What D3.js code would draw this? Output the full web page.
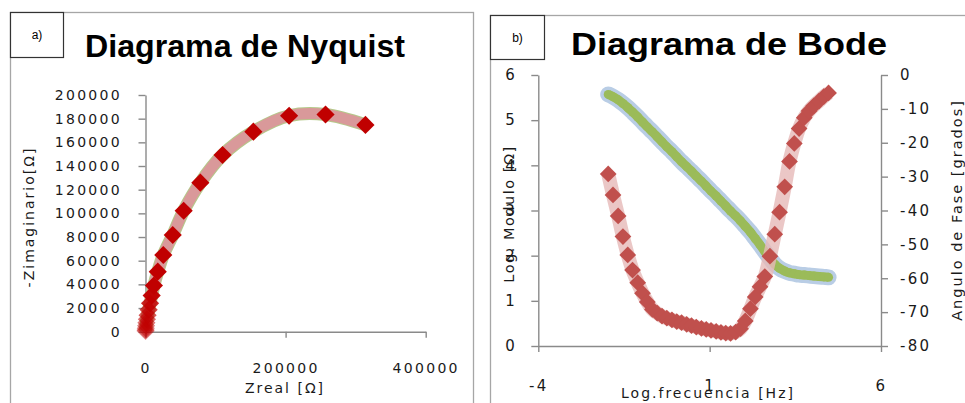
<!DOCTYPE html>
<html>
<head>
<meta charset="utf-8">
<script src="https://cdn.jsdelivr.net/npm/d3@7"></script>
<style>
  body { margin: 0; background: #fff; }
  svg { display: block; }
  text { font-family: "DejaVu Sans", Verdana, sans-serif; fill: #1a1a1a; }
  .axis path, .axis line { stroke: #8a8a8a; stroke-width: 1.4px; }
</style>
</head>
<body>
<svg id="chart" width="965" height="403"></svg>
<script>
// Nyquist data (ohm), low freq -> high freq
const nyqReal = [314000, 257000, 205000, 154000, 110000, 78300, 54500, 38900, 25400, 17500,
  12000, 8800, 6500, 4500, 3000, 2000, 1300, 800, 400, 200, 80];
const nyqImag = [174700, 183500, 182500, 169000, 149300, 125900, 102200, 81700, 64800, 50700,
  39000, 30500, 24000, 18500, 14000, 10500, 7500, 5000, 3000, 1500, 600];
const nyqXTicks = [0, 200000, 400000];
const nyqYTicks = [0, 20000, 40000, 60000, 80000, 100000, 120000, 140000, 160000, 180000, 200000];

// Bode data
const logFreq = [-1.96, -1.82, -1.67, -1.53, -1.39, -1.25, -1.10, -0.96, -0.82, -0.67,
  -0.53, -0.39, -0.25, -0.10, 0.04, 0.18, 0.33, 0.47, 0.61, 0.76,
  0.90, 1.04, 1.19, 1.33, 1.47, 1.61, 1.76, 1.90, 2.04, 2.19,
  2.33, 2.47, 2.61, 2.76, 2.90, 3.04, 3.19, 3.33, 3.47, 3.61,
  3.76, 3.90, 4.04, 4.19, 4.33, 4.47];
const logModulus = [5.57, 5.52, 5.45, 5.37, 5.28, 5.18, 5.07, 4.96, 4.85, 4.74,
  4.63, 4.52, 4.41, 4.30, 4.19, 4.08, 3.97, 3.87, 3.76, 3.65,
  3.54, 3.43, 3.32, 3.21, 3.10, 2.99, 2.88, 2.77, 2.65, 2.52,
  2.38, 2.24, 2.09, 1.94, 1.81, 1.72, 1.66, 1.62, 1.60, 1.58,
  1.57, 1.56, 1.55, 1.54, 1.53, 1.52];
const phaseAngle = [-29.2, -35.4, -41.6, -47.7, -53.1, -57.6, -61.3, -64.4, -67.0, -69.2,
  -70.3, -71.2, -71.8, -72.3, -72.8, -73.1, -73.6, -74.0, -74.4, -74.8,
  -75.1, -75.4, -75.7, -76.0, -76.2, -76.3, -75.9, -74.9, -72.6, -69.0,
  -65.5, -62.5, -59.5, -53.5, -47.0, -40.5, -33.0, -25.5, -20.2, -15.8,
  -12.6, -10.6, -9.1, -7.7, -6.4, -5.3];
const bodeXTicks = [-4, 1, 6];
const bodeYTicks = [0, 1, 2, 3, 4, 5, 6];
const phaseTicks = [0, -10, -20, -30, -40, -50, -60, -70, -80];

const svg = d3.select('#chart');
const plainNum = d => String(d);   // plain hyphen for negatives, like the original

function diamond(size) {
  return d3.symbol().type(d3.symbolSquare).size(size)();
}

// inline styles so the axis defaults (font-size 10, sans-serif) can't win
function styleText(sel, size, spacing, weight) {
  sel.style('font-family', '"DejaVu Sans", Verdana, sans-serif')
    .style('font-size', size + 'px')
    .style('letter-spacing', spacing + 'px')
    .style('font-weight', weight || 'normal')
    .style('fill', '#1a1a1a');
  return sel;
}

// letter-spacing makes end-anchored text drift, so push the drawn right edge onto endX
function alignRight(sel, endX) {
  sel.attr('text-anchor', 'start').each(function() {
    const bb = this.getBBox();
    const x = +this.getAttribute('x') || 0;
    this.setAttribute('x', x + (endX - (bb.x + bb.width)));
  });
}

function panelFrame(parent, box, label, title, titleX, titleY, titleLen) {
  parent.append('rect')
    .attr('x', box.x).attr('y', box.y)
    .attr('width', box.w).attr('height', box.h)
    .attr('fill', '#fff')
    .attr('stroke', '#a6a6a6')
    .attr('stroke-width', 1.3);

  parent.append('rect')
    .attr('x', box.x).attr('y', box.y)
    .attr('width', box.lw).attr('height', box.lh)
    .attr('fill', '#fff')
    .attr('stroke', '#333')
    .attr('stroke-width', 1.2);

  parent.append('text')
    .attr('x', box.x + box.lw / 2)
    .attr('y', box.y + box.lh / 2 + 4)
    .attr('text-anchor', 'middle')
    .style('font-family', '"Liberation Sans", Arial, sans-serif')
    .style('font-size', '12px')
    .style('fill', '#000')
    .text(label);

  parent.append('text')
    .attr('x', titleX)
    .attr('y', titleY)
    .attr('text-anchor', 'middle')
    .attr('textLength', titleLen)
    .attr('lengthAdjust', 'spacingAndGlyphs')
    .style('font-family', '"Liberation Sans", Arial, sans-serif')
    .style('font-weight', 'bold')
    .style('font-size', '31px')
    .style('fill', '#000')
    .text(title);
}

function nyquistChart(parent) {
  panelFrame(parent, {x: 10.5, y: 12.5, w: 463, h: 420, lw: 53, lh: 45},
    'a)', 'Diagrama de Nyquist', 245, 57, 320);

  const xScale = d3.scaleLinear().domain([0, 400000]).range([145.5, 425.7]);
  const yScale = d3.scaleLinear().domain([0, 200000]).range([331.7, 95]);

  const yAxis = d3.axisLeft(yScale)
    .tickValues(nyqYTicks)
    .tickFormat(plainNum)
    .tickSize(7)
    .tickSizeOuter(0)
    .tickPadding(14);
  const yAxisG = parent.append('g')
    .attr('class', 'axis')
    .attr('transform', `translate(${xScale(0)},0)`)
    .call(yAxis);
  styleText(yAxisG.selectAll('text'), 14, 2.3);
  alignRight(yAxisG.selectAll('text'), 122 - xScale(0));

  const xAxis = d3.axisBottom(xScale)
    .tickValues(nyqXTicks)
    .tickFormat(plainNum)
    .tickSize(6)
    .tickSizeOuter(0)
    .tickPadding(25);
  const xAxisG = parent.append('g')
    .attr('class', 'axis')
    .attr('transform', `translate(0,${yScale(0)})`)
    .call(xAxis);
  styleText(xAxisG.selectAll('text'), 14, 2.3);

  styleText(parent.append('text'), 14, 2)
    .attr('x', 285).attr('y', 393)
    .attr('text-anchor', 'middle')
    .text('Zreal [Ω]');

  styleText(parent.append('text'), 14, 2)
    .attr('transform', 'translate(34,217) rotate(-90)')
    .attr('text-anchor', 'middle')
    .text('-Zimaginario[Ω]');

  const points = nyqReal.map((d, i) => ({re: d, im: nyqImag[i]}));
  const line = d3.line()
    .x(d => xScale(d.re))
    .y(d => yScale(d.im))
    .curve(d3.curveCatmullRom.alpha(0.5));

  parent.append('path')
    .datum(points)
    .attr('d', line)
    .attr('fill', 'none')
    .attr('stroke', '#b5c98a')
    .attr('stroke-width', 13);
  parent.append('path')
    .datum(points)
    .attr('d', line)
    .attr('fill', 'none')
    .attr('stroke', '#d9999a')
    .attr('stroke-width', 11);

  // markers near the origin look faded in the picture
  const fade = d3.scaleLinear().domain([0, 32000]).range([0.4, 1]).clamp(true);
  parent.append('g').selectAll('path')
    .data(points.slice().reverse())
    .join('path')
      .attr('d', diamond(165))
      .attr('transform', d => `translate(${xScale(d.re)},${yScale(d.im)}) rotate(45)`)
      .attr('fill', '#c00000')
      .attr('fill-opacity', d => fade(d.im));
}

function bodeChart(parent) {
  panelFrame(parent, {x: 490.5, y: 15.5, w: 500, h: 420, lw: 54, lh: 44},
    'b)', 'Diagrama de Bode', 729, 55, 316);

  const xScale = d3.scaleLinear().domain([-4, 6]).range([538.3, 881]);
  const yScale = d3.scaleLinear().domain([0, 6]).range([346, 75]);
  const phaseScale = d3.scaleLinear().domain([-80, 0]).range([346, 75]);

  const xAxisG = parent.append('g')
    .attr('class', 'axis')
    .attr('transform', `translate(0,${yScale(0)})`)
    .call(d3.axisBottom(xScale).tickValues(bodeXTicks).tickFormat(plainNum)
      .tickSize(6).tickSizeOuter(0).tickPadding(28));
  styleText(xAxisG.selectAll('text'), 15, 2.3);

  const yAxisG = parent.append('g')
    .attr('class', 'axis')
    .attr('transform', `translate(${xScale(-4)},0)`)
    .call(d3.axisLeft(yScale).tickValues(bodeYTicks).tickFormat(plainNum)
      .tickSize(7).tickSizeOuter(0).tickPadding(11));
  styleText(yAxisG.selectAll('text'), 15, 2.3);
  alignRight(yAxisG.selectAll('text'), 517 - xScale(-4));

  const phaseAxisG = parent.append('g')
    .attr('class', 'axis')
    .attr('transform', `translate(${xScale(6)},0)`)
    .call(d3.axisRight(phaseScale).tickValues(phaseTicks).tickFormat(plainNum)
      .tickSize(7).tickSizeOuter(0).tickPadding(12));
  styleText(phaseAxisG.selectAll('text'), 15, 2.3);

  styleText(parent.append('text'), 14, 2)
    .attr('x', 708).attr('y', 398)
    .attr('text-anchor', 'middle')
    .text('Log.frecuencia [Hz]');

  styleText(parent.append('text'), 14.5, 1.5)
    .attr('transform', 'translate(514,214) rotate(-90)')
    .attr('text-anchor', 'middle')
    .text('Log. Modulo [Ω]');

  styleText(parent.append('text'), 14.5, 2)
    .attr('transform', 'translate(962,210) rotate(-90)')
    .attr('text-anchor', 'middle')
    .text('Angulo de Fase [grados]');

  const rows = logFreq.map((f, i) => ({f: f, mod: logModulus[i], ph: phaseAngle[i]}));

  // modulus: blue halo under small green markers
  const modLine = d3.line()
    .x(d => xScale(d.f))
    .y(d => yScale(d.mod))
    .curve(d3.curveCatmullRom.alpha(0.5));
  parent.append('path')
    .datum(rows)
    .attr('d', modLine)
    .attr('fill', 'none')
    .attr('stroke', '#b9cde5')
    .attr('stroke-width', 16)
    .attr('stroke-linecap', 'round')
    .attr('stroke-linejoin', 'round');
  parent.append('path')
    .datum(rows)
    .attr('d', modLine)
    .attr('fill', 'none')
    .attr('stroke', '#9bbb59')
    .attr('stroke-width', 9)
    .attr('stroke-linejoin', 'round');
  parent.append('g').selectAll('circle')
    .data(rows)
    .join('circle')
      .attr('cx', d => xScale(d.f))
      .attr('cy', d => yScale(d.mod))
      .attr('r', 4.5)
      .attr('fill', '#9bbb59');

  // phase: pink line with red diamonds
  const phLine = d3.line()
    .x(d => xScale(d.f))
    .y(d => phaseScale(d.ph))
    .curve(d3.curveCatmullRom.alpha(0.5));
  parent.append('path')
    .datum(rows)
    .attr('d', phLine)
    .attr('fill', 'none')
    .attr('stroke', '#e6b9b8')
    .attr('stroke-opacity', 0.8)
    .attr('stroke-width', 14);
  parent.append('g').selectAll('path')
    .data(rows)
    .join('path')
      .attr('d', diamond(140))
      .attr('transform', d => `translate(${xScale(d.f)},${phaseScale(d.ph)}) rotate(45)`)
      .attr('fill', '#c0504d');
}

nyquistChart(svg.append('g').attr('class', 'nyquist'));
bodeChart(svg.append('g').attr('class', 'bode'));
</script>
</body>
</html>
